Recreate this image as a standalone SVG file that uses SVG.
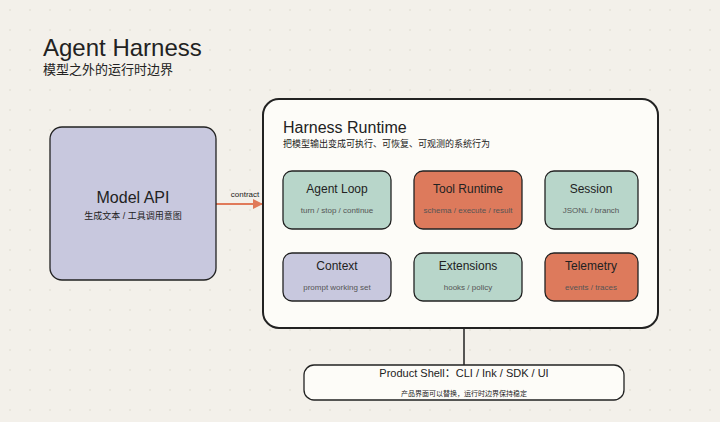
<svg xmlns="http://www.w3.org/2000/svg" width="720" height="422" viewBox="0 0 720 422">
<defs>
<pattern id="dots" width="20" height="20" patternUnits="userSpaceOnUse"><circle cx="10" cy="10" r="0.8" fill="#ddd8cc"/></pattern>
<marker id="arr" viewBox="0 0 10 10" refX="9" refY="5" markerWidth="5" markerHeight="5" orient="auto"><path d="M0,0L10,5L0,10z" fill="#e07a5a"/></marker>
</defs>
<style>
text{font-family:"Liberation Sans","Noto Sans CJK SC",sans-serif;fill:#222}
.n{stroke:#222;stroke-width:1.3}
.t{font-size:12px;text-anchor:middle}
.s{font-size:8px;text-anchor:middle;fill:#555}
.g{fill:#b8d6ca}.o{fill:#dd7a5c}.p{fill:#c8c8de}
</style>
<rect width="720" height="422" fill="#f3f0ea"/>
<rect width="720" height="422" fill="url(#dots)"/>
<text x="43" y="56" font-size="24">Agent Harness</text>
<text x="43" y="74" font-size="13" fill="#444">模型之外的运行时边界</text>
<g id="connectors">
<line x1="216" y1="204" x2="262" y2="204" stroke="#e07a5a" stroke-width="2" marker-end="url(#arr)"/>
<text x="245" y="197" font-size="8" text-anchor="middle" fill="#444">contract</text>
<line x1="464" y1="328" x2="464" y2="365" stroke="#222" stroke-width="1.5"/>
</g>
<g id="model-api"><rect x="50" y="127" width="166" height="153" rx="12" class="n p" stroke-width="2"/>
<text x="133" y="203" font-size="16" text-anchor="middle">Model API</text>
<text x="133" y="219" font-size="9" text-anchor="middle" fill="#444">生成文本 / 工具调用意图</text></g>
<g id="runtime"><rect x="263" y="99" width="395" height="229" rx="16" fill="#fdfcf8" stroke="#222" stroke-width="2"/>
<text x="283" y="133" font-size="16">Harness Runtime</text>
<text x="283" y="147" font-size="9" fill="#444">把模型输出变成可执行、可恢复、可观测的系统行为</text></g>
<g id="agent-loop"><rect x="283" y="171" width="108" height="58" rx="9" class="n g"/><text x="337" y="193" class="t">Agent Loop</text><text x="337" y="213" class="s">turn / stop / continue</text></g>
<g id="tool-runtime"><rect x="414" y="171" width="108" height="58" rx="9" class="n o"/><text x="468" y="193" class="t">Tool Runtime</text><text x="468" y="213" class="s">schema / execute / result</text></g>
<g id="session"><rect x="545" y="171" width="93" height="58" rx="9" class="n g"/><text x="591" y="193" class="t">Session</text><text x="591" y="213" class="s">JSONL / branch</text></g>
<g id="context"><rect x="283" y="253" width="108" height="48" rx="9" class="n p"/><text x="337" y="270" class="t">Context</text><text x="337" y="290" class="s">prompt working set</text></g>
<g id="extensions"><rect x="414" y="253" width="108" height="48" rx="9" class="n g"/><text x="468" y="270" class="t">Extensions</text><text x="468" y="290" class="s">hooks / policy</text></g>
<g id="telemetry"><rect x="545" y="253" width="93" height="48" rx="9" class="n o"/><text x="591" y="270" class="t">Telemetry</text><text x="591" y="290" class="s">events / traces</text></g>
<g id="product-shell"><rect x="304" y="365" width="320" height="35" rx="10" fill="#fdfcf8" stroke="#222" stroke-width="1.3"/>
<text x="464" y="377" font-size="11" text-anchor="middle">Product Shell：CLI / Ink / SDK / UI</text>
<text x="464" y="396" font-size="7" text-anchor="middle" fill="#444">产品界面可以替换，运行时边界保持稳定</text></g>
</svg>
